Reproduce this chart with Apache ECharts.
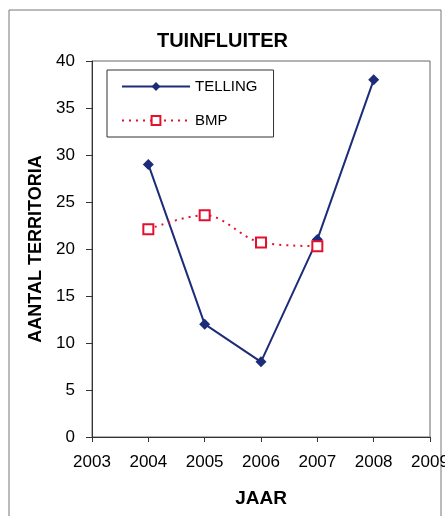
<!DOCTYPE html>
<html><head><meta charset="utf-8">
<script src="https://cdn.jsdelivr.net/npm/echarts@6/dist/echarts.min.js"></script>
<style>html,body{margin:0;padding:0;background:#fff}#c{width:445px;height:516px}</style>
</head><body><div id="c"></div>
<script>
const years = [2004, 2005, 2006, 2007, 2008];
const telling = [29, 12, 8, 21, 38];
const bmpYears = [2004, 2005, 2006, 2007];
const bmp = [22.1, 23.6, 20.7, 20.3];
const xTicks = [2003, 2004, 2005, 2006, 2007, 2008, 2009];
const yTicks = [0, 5, 10, 15, 20, 25, 30, 35, 40];

const font = 'Liberation Sans, Arial, sans-serif';
const chart = echarts.init(document.getElementById('c'));
chart.setOption({
  animation: false,
  backgroundColor: '#fff',
  title: {
    text: 'TUINFLUITER', left: 'center', top: 26,
    textStyle: {fontFamily: font, fontSize: 20, fontWeight: 'bold', color: '#000'}
  },
  graphic: [
    {type: 'polyline', shape: {points: [[9, 516], [9, 10], [441, 10], [441, 516]]},
     style: {stroke: '#777', lineWidth: 1, fill: null}}
  ],
  legend: {
    left: 107, top: 70, orient: 'vertical',
    borderColor: '#333', borderWidth: 1, padding: [9, 16, 9, 14], itemGap: 19,
    itemWidth: 68, itemHeight: 11,
    textStyle: {fontFamily: font, fontSize: 15, color: '#000'},
    data: ['TELLING', 'BMP']
  },
  grid: {left: 92, right: 15, top: 61, bottom: 79, show: true, borderColor: '#666', borderWidth: 1,
         containLabel: false, outerBoundsMode: 'none'},
  xAxis: {
    type: 'value', min: xTicks[0], max: xTicks[xTicks.length - 1], interval: 1,
    name: 'JAAR', nameLocation: 'middle', nameGap: 52,
    nameTextStyle: {fontFamily: font, fontSize: 19, fontWeight: 'bold', color: '#000'},
    axisLine: {lineStyle: {color: '#333'}},
    axisTick: {show: true, length: 5, lineStyle: {color: '#333'}},
    axisLabel: {fontFamily: font, fontSize: 17, color: '#000', margin: 17, formatter: v => String(v)},
    splitLine: {show: false}
  },
  yAxis: {
    type: 'value', min: yTicks[0], max: yTicks[yTicks.length - 1], interval: 5,
    name: 'AANTAL TERRITORIA', nameLocation: 'middle', nameGap: 46,
    nameTextStyle: {fontFamily: font, fontSize: 18, fontWeight: 'bold', color: '#000'},
    axisLine: {show: true, lineStyle: {color: '#333'}},
    axisTick: {show: true, length: 6, lineStyle: {color: '#333'}},
    axisLabel: {fontFamily: font, fontSize: 17, color: '#000', margin: 17},
    splitLine: {show: false}
  },
  series: [
    {
      name: 'TELLING', type: 'line',
      data: years.map((y, i) => [y, telling[i]]),
      symbol: 'diamond', symbolSize: 11,
      lineStyle: {color: '#1c2c78', width: 2},
      itemStyle: {color: '#1c2c78'}
    },
    {
      name: 'BMP', type: 'line', smooth: 0.35,
      data: bmpYears.map((y, i) => [y, bmp[i]]),
      symbol: 'rect', symbolSize: 10,
      lineStyle: {color: '#e3112e', width: 2, type: [2, 5]},
      itemStyle: {color: '#fff', borderColor: '#e3112e', borderWidth: 2}
    }
  ]
});
</script></body></html>
